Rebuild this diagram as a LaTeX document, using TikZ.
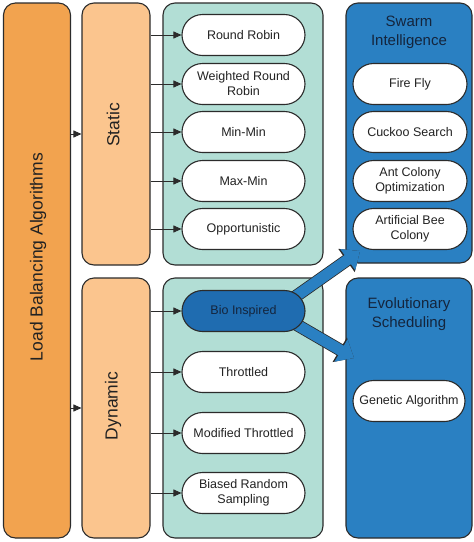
\documentclass[tikz,border=0pt]{standalone}
\usepackage{fontspec}
\setmainfont{Liberation Sans}
\usetikzlibrary{arrows.meta}
\usetikzlibrary{shapes.misc}
\usetikzlibrary{calc}

\begin{document}
\begin{tikzpicture}
			[x=1pt,y=-1pt,line join=round,
			%Styles
			group/.style={draw=edgecolor,line width=1.1pt,rounded corners=12pt,inner sep=0pt},
			pill/.style={rounded rectangle,draw=edgecolor,line width=1.1pt,fill=white,minimum height=41pt,
				inner sep=2pt,align=center,text=textcolor,font=\fontsize{12.5}{15}\selectfont},
			side label/.style={rotate=90,text=textcolor,font=\fontsize{17.5}{20}\selectfont},
			title/.style={align=center,text=titlecolor,font=\fontsize{15}{19}\selectfont},
			small arrow/.style={draw=edgecolor,line width=0.9pt,-{Triangle[length=8pt,width=7pt]}},
			big arrow/.style={draw=bluecolor,line width=11pt,-{Triangle[length=15pt,width=25pt]},
				preaction={draw=edgecolor,line width=12.6pt,-{Triangle[length=16.5pt,width=27.5pt]}}}
			]
			
			%Colors
			\definecolor{edgecolor}{HTML}{2B2B2B}
			\definecolor{textcolor}{HTML}{222222}
			\definecolor{titlecolor}{HTML}{14253D}
			\definecolor{loadcolor}{HTML}{F2A34F}
			\definecolor{kindcolor}{HTML}{FBC58E}
			\definecolor{tealcolor}{HTML}{B2DED5}
			\definecolor{bluecolor}{HTML}{2A80C2}
			\definecolor{biocolor}{HTML}{1F6CB0}
			
			\useasboundingbox (0,0) rectangle (474,542);
			
			%The graphic
			\node[group,fill=loadcolor,minimum width=67pt,minimum height=535pt] (load) at (37,270.5) {};
			\node[group,fill=kindcolor,minimum width=68pt,minimum height=262pt] (static) at (116,134) {};
			\node[group,fill=kindcolor,minimum width=68pt,minimum height=260pt] (dynamic) at (116,408) {};
			\node[group,fill=tealcolor,minimum width=160pt,minimum height=262pt] (staticgrp) at (243,134) {};
			\node[group,fill=tealcolor,minimum width=160pt,minimum height=260pt] (dynamicgrp) at (243,408) {};
			\node[group,fill=bluecolor,minimum width=126pt,minimum height=260pt] (swarm) at (409,133) {};
			\node[group,fill=bluecolor,minimum width=126pt,minimum height=260pt] (evol) at (409,408) {};
			
			\node[side label] (loadtext) at (38,257) {Load Balancing Algorithms};
			\node[side label] (statictext) at (113,125) {Static};
			\node[side label] (dynamictext) at (113,406) {Dynamic};
			\node[title] (swarmtext) at (409,32) {Swarm\\Intelligence};
			\node[title] (evoltext) at (409,314) {Evolutionary\\Scheduling};
			
			\node[pill,minimum width=127pt] (rr) at (243.5,35) {Round Robin};
			\node[pill,minimum width=127pt] (wrr) at (243.5,84) {Weighted Round\\Robin};
			\node[pill,minimum width=127pt] (minmin) at (243.5,132) {Min-Min};
			\node[pill,minimum width=127pt] (maxmin) at (243.5,181) {Max-Min};
			\node[pill,minimum width=127pt] (opp) at (243.5,229) {Opportunistic};
			
			\node[pill,minimum width=127pt] (thr) at (243.5,372) {Throttled};
			\node[pill,minimum width=127pt] (mthr) at (243.5,433) {Modified Throttled};
			\node[pill,minimum width=127pt] (brs) at (243.5,493) {Biased Random\\Sampling};
			
			\node[pill,minimum width=118pt] (ff) at (410,84) {Fire Fly};
			\node[pill,minimum width=118pt] (cs) at (410,132) {Cuckoo Search};
			\node[pill,minimum width=118pt] (ac) at (410,181) {Ant Colony\\Optimization};
			\node[pill,minimum width=118pt] (abc) at (410,229) {Artificial Bee\\Colony};
			\node[pill,minimum width=116pt] (gen) at (409,401) {Genetic Algorithm};
			
			%Arrows
			\draw[small arrow] (load.east |- static.west) -- (static.west);
			\draw[small arrow] (load.east |- dynamic.west) -- (dynamic.west);
			\foreach \p in {rr,wrr,minmin,maxmin,opp}
				\draw[small arrow] (static.east |- \p.west) -- (\p.west);
			
			\coordinate (biopos) at (243.5,311);
			\coordinate (swarmtip) at (360,251);
			\coordinate (evoltip) at (354,358);
			\draw[big arrow] ($(biopos)+(40,-6)$) -- (swarmtip);
			\draw[big arrow] ($(biopos)+(40,6)$) -- (evoltip);
			
			\node[pill,minimum width=127pt,fill=biocolor,text=titlecolor] (bio) at (biopos) {Bio Inspired};
			\foreach \p in {bio,thr,mthr,brs}
				\draw[small arrow] (dynamic.east |- \p.west) -- (\p.west);
		\end{tikzpicture}
\end{document}
